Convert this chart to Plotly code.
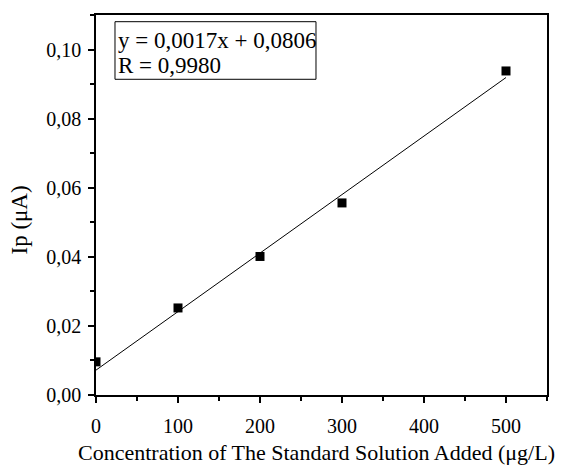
import plotly.graph_objects as go

conc = [0, 100, 200, 300, 500]
ip = [0.0096, 0.0252, 0.0401, 0.0556, 0.0938]
fit_x = [0, 500]
fit_y = [0.0072, 0.0919]
eq_lines = ["y = 0,0017x + 0,0806", "R = 0,9980"]
x_ticks = [0, 100, 200, 300, 400, 500]
y_ticks = [0.00, 0.02, 0.04, 0.06, 0.08, 0.10]
x_title = "Concentration of The Standard Solution Added (μg/L)"
y_title = "Ip (μA)"

FONT = "Liberation Serif"

fig = go.Figure()
fig.add_trace(go.Scatter(x=fit_x, y=fit_y, mode="lines",
                         line=dict(color="black", width=1), showlegend=False))
fig.add_trace(go.Scatter(x=conc, y=ip, mode="markers",
                         marker=dict(symbol="square", size=9, color="black"),
                         showlegend=False))

# equation box
fig.add_shape(type="rect", xref="paper", yref="paper",
              x0=0.0421, x1=0.4878, y0=0.8308, y1=0.9824,
              line=dict(color="black", width=1), fillcolor="white", layer="below")
for line, yy in zip(eq_lines, [0.934, 0.866]):
    fig.add_annotation(xref="paper", yref="paper", x=0.044, y=yy,
                       xanchor="left", yanchor="middle", align="left",
                       text=line, showarrow=False,
                       font=dict(family=FONT, size=23, color="black"))

fig.add_annotation(xref="paper", yref="paper", x=0.49, y=-0.152,
                   xanchor="center", yanchor="middle", text=x_title, showarrow=False,
                   font=dict(family=FONT, size=22, color="black"))
fig.add_annotation(xref="paper", yref="paper", x=-0.17, y=0.46,
                   xanchor="center", yanchor="middle", text=y_title, showarrow=False,
                   textangle=-90, font=dict(family=FONT, size=23, color="black"))

fig.update_layout(
    width=567, height=466,
    margin=dict(l=96, r=20, t=15, b=71),
    plot_bgcolor="white", paper_bgcolor="white",
    separators=",.",
    font=dict(family=FONT, size=20, color="black"),
    xaxis=dict(range=[0, 550], tickvals=x_ticks, showgrid=False, zeroline=False, automargin=False,
               showline=True, linecolor="black", linewidth=1.5, mirror=True,
               ticks="outside", ticklen=6, tickwidth=1.5, tickcolor="black", ticklabelstandoff=6,
               minor=dict(dtick=50, tick0=0, ticks="outside", ticklen=4, tickwidth=1.5, tickcolor="black", showgrid=False)),
    yaxis=dict(range=[0, 0.11], tickvals=y_ticks, tickformat=".2f", showgrid=False, zeroline=False, automargin=False,
               showline=True, linecolor="black", linewidth=1.5, mirror=True,
               ticks="outside", ticklen=6, tickwidth=1.5, tickcolor="black", ticklabelstandoff=3,
               minor=dict(dtick=0.01, tick0=0, ticks="outside", ticklen=4, tickwidth=1.5, tickcolor="black", showgrid=False)),
)

fig.write_html("out.html")
